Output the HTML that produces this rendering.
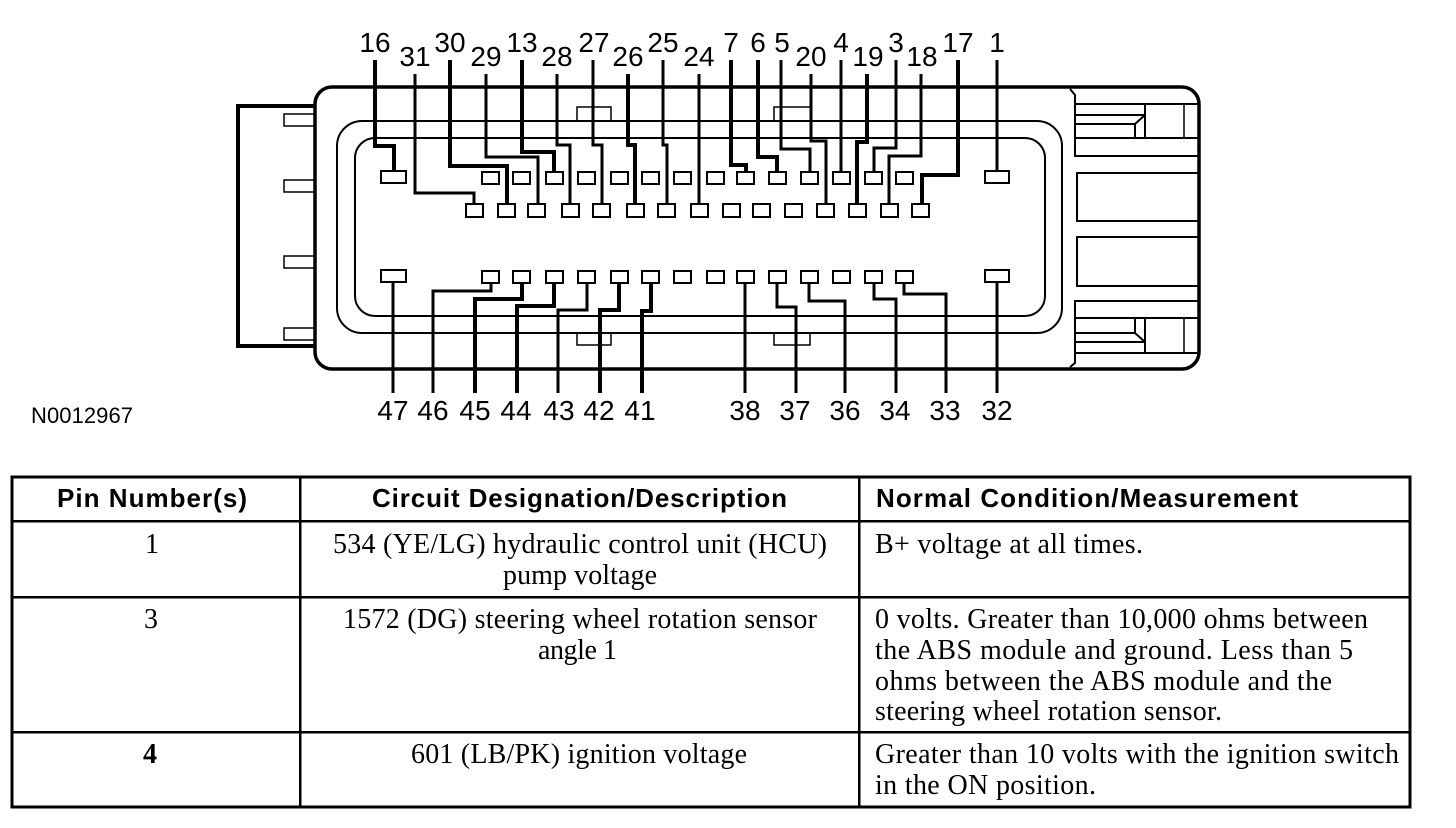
<!DOCTYPE html>
<html><head><meta charset="utf-8"><style>
html,body{margin:0;padding:0;background:#fff}
svg{display:block}
.l{fill:none;stroke:#000;stroke-width:3;shape-rendering:crispEdges}
.t{stroke-width:4}
.p{fill:none;stroke:#000;stroke-width:2;shape-rendering:crispEdges}
.s{fill:none;stroke:#000;stroke-width:1.5}
.m{fill:none;stroke:#000;stroke-width:2}
.b{fill:none;stroke:#000;stroke-width:3.5}
.n text{font:28px "Liberation Sans",sans-serif;text-anchor:middle;fill:#000}
.h{font:bold 26px "Liberation Sans",sans-serif;fill:#000}
.r{font:28px "Liberation Serif",serif;fill:#000}
</style></head><body>
<svg width="1456" height="828" viewBox="0 0 1456 828" xmlns="http://www.w3.org/2000/svg">
<path class="b" style="stroke-width:4" d="M315 106H238V346H315"/>
<path class="b" d="M315 104A17 17 0 0 1 332 87H1182A17 17 0 0 1 1199 104V352A17 17 0 0 1 1182 369H332A17 17 0 0 1 315 352Z"/>
<path class="s" d="M315 114H284V126H315M315 180H284V192H315M315 256H284V268H315M315 328H284V340H315"/>
<rect class="m" x="337" y="121" width="725" height="212" rx="25"/>
<rect class="m" x="355" y="138" width="690" height="178" rx="20"/>
<path class="s" d="M577 121V107H611V121M774 121V107H810M577 333V345H611V333M774 333V345H810V333"/>
<path class="m" d="M1070 89L1075 95V156H1199M1075 104H1199M1075 115H1145M1075 124H1135L1145 115M1135 124V138M1145 104V138M1075 138H1199"/>
<path class="s" d="M1184 104V138M1184 318V353"/>
<rect class="m" x="1077" y="173" width="122" height="48"/>
<rect class="m" x="1077" y="237" width="122" height="49"/>
<path class="m" d="M1199 301H1075V363L1070 367M1075 318H1199M1075 333H1135L1145 342M1075 342H1145M1075 353H1199M1135 318V333M1145 318V353"/>
<g class="p">
<rect x="381" y="171" width="25" height="12"/><rect x="985" y="171" width="24" height="12"/>
<rect x="381" y="270" width="25" height="12"/><rect x="985" y="270" width="24" height="12"/>
<rect x="482" y="172" width="17" height="12"/><rect x="513" y="172" width="17" height="12"/><rect x="546" y="172" width="17" height="12"/><rect x="578" y="172" width="17" height="12"/><rect x="611" y="172" width="17" height="12"/><rect x="642" y="172" width="17" height="12"/><rect x="674" y="172" width="17" height="12"/><rect x="707" y="172" width="17" height="12"/><rect x="737" y="172" width="17" height="12"/><rect x="769" y="172" width="17" height="12"/><rect x="801" y="172" width="17" height="12"/><rect x="833" y="172" width="17" height="12"/><rect x="865" y="172" width="17" height="12"/><rect x="896" y="172" width="17" height="12"/>
<rect x="466" y="204" width="17" height="13"/><rect x="498" y="204" width="17" height="13"/><rect x="528" y="204" width="17" height="13"/><rect x="562" y="204" width="17" height="13"/><rect x="593" y="204" width="17" height="13"/><rect x="627" y="204" width="17" height="13"/><rect x="658" y="204" width="17" height="13"/><rect x="691" y="204" width="17" height="13"/><rect x="723" y="204" width="17" height="13"/><rect x="753" y="204" width="17" height="13"/><rect x="785" y="204" width="17" height="13"/><rect x="817" y="204" width="17" height="13"/><rect x="849" y="204" width="17" height="13"/><rect x="881" y="204" width="17" height="13"/><rect x="912" y="204" width="17" height="13"/>
<rect x="482" y="271" width="17" height="12"/><rect x="513" y="271" width="17" height="12"/><rect x="546" y="271" width="17" height="12"/><rect x="578" y="271" width="17" height="12"/><rect x="611" y="271" width="17" height="12"/><rect x="642" y="271" width="17" height="12"/><rect x="674" y="271" width="17" height="12"/><rect x="707" y="271" width="17" height="12"/><rect x="737" y="271" width="17" height="12"/><rect x="769" y="271" width="17" height="12"/><rect x="801" y="271" width="17" height="12"/><rect x="833" y="271" width="17" height="12"/><rect x="865" y="271" width="17" height="12"/><rect x="896" y="271" width="17" height="12"/>
</g>
<path class="l t" d="M375 60V146H394V171"/>
<path class="l" d="M415 74V193H474V204"/>
<path class="l t" d="M450 60V166H507V204"/>
<path class="l" d="M486 74V157H538V204"/>
<path class="l t" d="M522 60V152H554V172"/>
<path class="l" d="M557 74V145H570V204"/>
<path class="l" d="M593 60V145H602V204"/>
<path class="l t" d="M628 74V145H635V204"/>
<path class="l" d="M663 60V145H667V204"/>
<path class="l" d="M699 74V204"/>
<path class="l t" d="M731 60V165H746V172"/>
<path class="l t" d="M758 60V157H777V172"/>
<path class="l" d="M781 60V149H810V172"/>
<path class="l" d="M811 74V141H826V204"/>
<path class="l" d="M841 60V172"/>
<path class="l t" d="M867 74V142H857V204"/>
<path class="l" d="M896 60V148H874V172"/>
<path class="l" d="M921 74V156H889V204"/>
<path class="l t" d="M958 60V175H922V204"/>
<path class="l" d="M997 60V171"/>
<path class="l" d="M393 282V393"/>
<path class="l" d="M433 393V291H491V283"/>
<path class="l t" d="M475 393V299H522V283"/>
<path class="l t" d="M517 393V306H554V283"/>
<path class="l" d="M558 393V310H587V283"/>
<path class="l t" d="M600 393V310H619V283"/>
<path class="l t" d="M642 393V311H651V283"/>
<path class="l" d="M745 283V393"/>
<path class="l" d="M796 393V307H777V283"/>
<path class="l" d="M845 393V301H809V283"/>
<path class="l" d="M896 393V299H874V283"/>
<path class="l" d="M946 393V294H904V283"/>
<path class="l" d="M997 282V393"/>
<g class="n">
<text x="375" y="52">16</text><text x="415" y="66">31</text><text x="450" y="52">30</text><text x="486" y="66">29</text><text x="522" y="52">13</text><text x="557" y="66">28</text><text x="594" y="52">27</text><text x="628" y="66">26</text><text x="663" y="52">25</text><text x="699" y="66">24</text><text x="731" y="52">7</text><text x="758" y="52">6</text><text x="782" y="52">5</text><text x="811" y="66">20</text><text x="841" y="52">4</text><text x="868" y="66">19</text><text x="896" y="52">3</text><text x="922" y="66">18</text><text x="958" y="52">17</text><text x="997" y="52">1</text>
<text x="393" y="420">47</text><text x="433" y="420">46</text><text x="475" y="420">45</text><text x="516" y="420">44</text><text x="559" y="420">43</text><text x="599" y="420">42</text><text x="640" y="420">41</text><text x="745" y="420">38</text><text x="795" y="420">37</text><text x="845" y="420">36</text><text x="895" y="420">34</text><text x="945" y="420">33</text><text x="997" y="420">32</text>
</g>
<text x="31" y="423" textLength="102" style="font:22px 'Liberation Sans',sans-serif">N0012967</text>
<rect x="12" y="477" width="1398" height="330" fill="none" stroke="#000" stroke-width="3" shape-rendering="crispEdges"/>
<path fill="none" stroke="#000" stroke-width="2.5" shape-rendering="crispEdges" d="M12 521H1410M12 597H1410M12 732H1410M300 477V807M859 477V807"/>
<text class="h" x="57" y="507" textLength="190">Pin Number(s)</text>
<text class="h" x="372" y="507" textLength="415">Circuit Designation/Description</text>
<text class="h" x="876" y="507" textLength="422">Normal Condition/Measurement</text>
<text class="r" x="145" y="553">1</text>
<text class="r" x="144" y="628">3</text>
<text class="r" x="143" y="763" style="font-weight:bold">4</text>
<text class="r" x="333" y="553" textLength="494">534 (YE/LG) hydraulic control unit (HCU)</text>
<text class="r" x="503" y="584" textLength="154">pump voltage</text>
<text class="r" x="343" y="628" textLength="474">1572 (DG) steering wheel rotation sensor</text>
<text class="r" x="538" y="659" textLength="79">angle 1</text>
<text class="r" x="411" y="763" textLength="336">601 (LB/PK) ignition voltage</text>
<text class="r" x="875" y="553" textLength="268">B+ voltage at all times.</text>
<text class="r" x="875" y="628" textLength="493">0 volts. Greater than 10,000 ohms between</text>
<text class="r" x="875" y="659" textLength="478">the ABS module and ground. Less than 5</text>
<text class="r" x="875" y="690" textLength="457">ohms between the ABS module and the</text>
<text class="r" x="875" y="720" textLength="347">steering wheel rotation sensor.</text>
<text class="r" x="875" y="763" textLength="524">Greater than 10 volts with the ignition switch</text>
<text class="r" x="875" y="794" textLength="221">in the ON position.</text>
</svg>
</body></html>
